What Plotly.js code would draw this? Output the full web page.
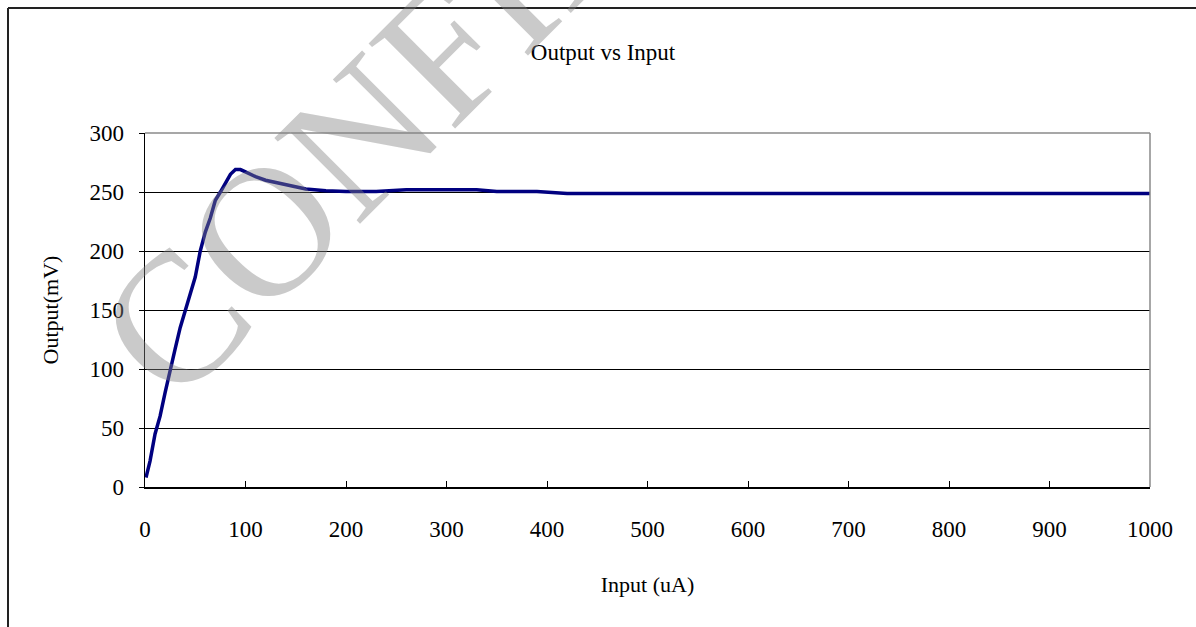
<!DOCTYPE html>
<html>
<head>
<meta charset="utf-8">
<script src="https://cdn.plot.ly/plotly-3.0.1.min.js"></script>
<style>html,body{margin:0;padding:0;background:#fff;}#chart{width:1196px;height:627px;}</style>
</head>
<body>
<div id="chart"></div>
<script>
// Data
const inputUA = [1, 5, 10, 15, 20, 25, 30, 35, 40, 45, 50, 55, 60, 65, 70, 75, 80, 85, 90, 95,
                 100, 110, 120, 130, 140, 150, 160, 180, 200, 230, 260, 300, 330, 350, 390, 420,
                 500, 600, 700, 800, 900, 1000];
const outputMV = [8, 22, 45, 60, 80, 100, 117, 135, 150, 165, 178, 200, 216, 228, 243, 250, 258, 265, 269, 269,
                  267, 263, 260, 258, 256, 254.5, 252.5, 251, 250.5, 250.5, 252, 252, 252, 250.5, 250.5, 248.8,
                  248.8, 248.8, 248.8, 248.8, 248.8, 248.8];
const xTicks = [0, 100, 200, 300, 400, 500, 600, 700, 800, 900, 1000];
const yTicks = [0, 50, 100, 150, 200, 250, 300];
const chartTitle = 'Output vs Input';
const xTitle = 'Input (uA)';
const yTitle = 'Output(mV)';
const watermark = 'CONFIDENTIAL';

const FONT = '"Liberation Serif", "DejaVu Serif", serif';
const L = 145, R = 1150, T = 133, B = 487, W = 1196, H = 627;
const px2x = p => (p - L) / (R - L);
const py2y = p => (B - p) / (B - T);

const trace = {
  x: inputUA, y: outputMV, type: 'scatter', mode: 'lines',
  line: {color: '#000080', width: 3.5}, hoverinfo: 'x+y', showlegend: false
};

const layout = {
  width: W, height: H,
  margin: {l: L, r: W - R, t: T, b: H - B, pad: 0},
  paper_bgcolor: '#ffffff', plot_bgcolor: '#ffffff',
  font: {family: FONT, color: '#000', size: 23},
  title: {text: chartTitle, x: 603 / W, xref: 'container', xanchor: 'center',
          y: 1 - 52 / H, yref: 'container', yanchor: 'middle',
          font: {family: FONT, size: 23, color: '#000'}},
  xaxis: {
    range: [0, 1000], tickvals: xTicks, ticktext: xTicks.map(String),
    showgrid: false, zeroline: false, showline: true, linecolor: '#000', linewidth: 1.5,
    ticks: 'inside', ticklen: 6, tickcolor: '#000', tickwidth: 1,
    ticklabelstandoff: 21, tickfont: {family: FONT, size: 23, color: '#000'},
    title: {text: xTitle, standoff: 35, font: {family: FONT, size: 22, color: '#000'}},
    fixedrange: true
  },
  yaxis: {
    range: [0, 300], tickvals: yTicks, ticktext: yTicks.map(String),
    showgrid: true, gridcolor: '#000', gridwidth: 1,
    zeroline: false, showline: true, linecolor: '#000', linewidth: 1.5,
    ticks: 'outside', ticklen: 5, tickcolor: '#000', tickwidth: 1,
    ticklabelstandoff: 10, tickfont: {family: FONT, size: 23, color: '#000'},
    title: {text: yTitle, standoff: 24, font: {family: FONT, size: 22, color: '#000'}},
    fixedrange: true
  },
  shapes: [
    // gray plot-area border (top and right)
    {type: 'line', xref: 'paper', yref: 'paper', x0: 0, x1: 1, y0: 1, y1: 1,
     line: {color: '#8a8a8a', width: 1.5}, layer: 'above'},
    {type: 'line', xref: 'paper', yref: 'paper', x0: 1, x1: 1, y0: 0, y1: 1,
     line: {color: '#8a8a8a', width: 1.5}, layer: 'above'},
    // outer chart frame (left and top edges visible)
    {type: 'line', xref: 'paper', yref: 'paper', x0: px2x(8), x1: px2x(8), y0: py2y(8), y1: py2y(700),
     line: {color: '#222', width: 2}},
    {type: 'line', xref: 'paper', yref: 'paper', x0: px2x(8), x1: px2x(1250), y0: py2y(8), y1: py2y(8),
     line: {color: '#222', width: 2}}
  ],
  annotations: [
    {text: watermark, xref: 'paper', yref: 'paper', x: px2x(610), y: py2y(-114),
     xanchor: 'center', yanchor: 'middle', showarrow: false, textangle: -45,
     font: {family: FONT, size: 185, color: 'rgba(128,128,128,0.42)'}}
  ]
};

Plotly.newPlot('chart', [trace], layout, {displayModeBar: false, staticPlot: true});
</script>
</body>
</html>
